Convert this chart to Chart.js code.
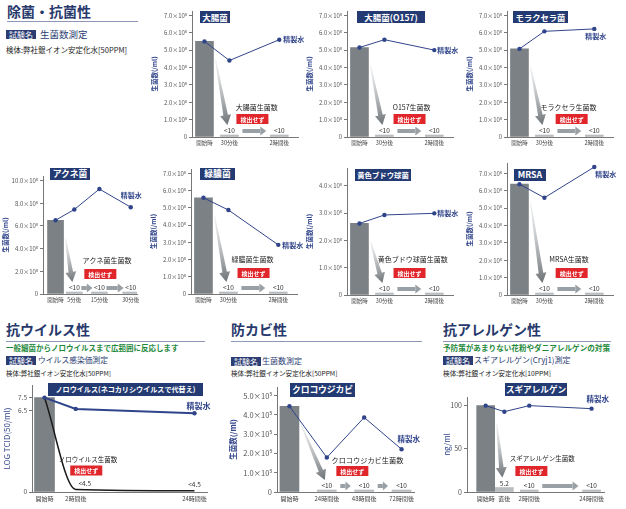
<!DOCTYPE html>
<html lang="ja">
<head>
<meta charset="UTF-8">
<title>除菌・抗菌性 / 抗ウイルス性 / 防カビ性 / 抗アレルゲン性</title>
<script src="https://cdn.jsdelivr.net/npm/chart.js"></script>
<style>
  html, body { margin: 0; padding: 0; background: #fff; font-family: "Noto Sans CJK JP", "Noto Sans", sans-serif; }
  #page { position: relative; width: 626px; height: 509px; overflow: hidden; }
  .abs { position: absolute; white-space: nowrap; }
  .head { font-size: 14px; line-height: 14px; font-weight: bold; color: #27396b; }
  .rule { height: 1px; background: #8e97b8; }
  .tag { background: #2b3d73; color: #fff; font-size: 8px; line-height: 9px; padding: 0 3px; }
  .test { color: #2b3d73; line-height: 10px; }
  .spec { color: #222; }
  .green { color: #1f8a3c; font-weight: bold; }
  .tbox { background: #243a73; color: #fff; font-weight: bold; text-align: center; overflow: hidden; }
  canvas { position: absolute; }
</style>
</head>
<body>
<div id="page">
  <div class="abs head" style="left:7px;top:4px;">除菌・抗菌性</div>
  <div class="abs rule" style="left:7px;top:21px;width:131px;"></div>
  <div class="abs tag" style="left:6px;top:30px;">試験名</div>
  <div class="abs test" style="left:40px;top:29px;font-size:9.5px;">生菌数測定</div>
  <div class="abs spec" style="left:6px;top:44px;font-size:7.5px;">検体:弊社銀イオン安定化水[50PPM]</div>

  <div class="abs head" style="left:6px;top:322px;">抗ウイルス性</div>
  <div class="abs rule" style="left:6px;top:341px;width:199px;"></div>
  <div class="abs green" style="left:6px;top:342px;font-size:7.5px;">一般細菌からノロウイルスまで広範囲に反応します</div>
  <div class="abs tag" style="left:6px;top:356px;">試験名</div>
  <div class="abs test" style="left:38px;top:355px;font-size:7.8px;">ウイルス感染価測定</div>
  <div class="abs spec" style="left:6px;top:368px;font-size:6.5px;">検体:弊社銀イオン安定化水[50PPM]</div>

  <div class="abs head" style="left:231px;top:322px;">防カビ性</div>
  <div class="abs rule" style="left:231px;top:341px;width:191px;"></div>
  <div class="abs tag" style="left:231px;top:357px;">試験名</div>
  <div class="abs test" style="left:262px;top:356px;font-size:8px;">生菌数測定</div>
  <div class="abs spec" style="left:231px;top:368px;font-size:6.6px;">検体:弊社銀イオン安定化水[50PPM]</div>

  <div class="abs head" style="left:443px;top:322px;">抗アレルゲン性</div>
  <div class="abs rule" style="left:443px;top:341px;width:168px;"></div>
  <div class="abs green" style="left:443px;top:342px;font-size:7.6px;">予防策があまりない花粉やダニアレルゲンの対策</div>
  <div class="abs tag" style="left:443px;top:356px;">試験名</div>
  <div class="abs test" style="left:474px;top:355px;font-size:8px;">スギアレルゲン(Cryj1)測定</div>
  <div class="abs spec" style="left:443px;top:368px;font-size:6.7px;">検体:弊社銀イオン安定化水[10PPM]</div>
</div>

<script>
// values are ×10⁵/ml unless noted; ND = 検出せず (<10), drawn as a thin bar
const ND = 0.0001;
const timesShort = ['開始時', '30分後', '2時間後'];
const belowTen = ['', '<10', '<10'];

const ecoliSilver = [5.5, ND, ND];
const ecoliWater = [5.5, 4.4, 5.6];

const o157Silver = [5.15, ND, ND];
const o157Water = [5.15, 5.6, 5.0];

const moraxSilver = [5.07, ND, ND];
const moraxWater = [5.07, 6.08, 6.22];

const acneTimes = ['開始時', '5分後', '15分後', '30分後'];
const acneSilver = [6.5, ND, ND, ND];
const acneText = ['', '<10', '<10', '<10'];
const acneWater = [6.5, 7.45, 9.25, 7.65];

const pseudoSilver = [5.58, ND, ND];
const pseudoWater = [5.58, 4.87, 2.85];

const staphSilver = [2.62, ND, ND];
const staphWater = [2.62, 2.93, 2.99];

const mrsaSilver = [6.38, ND, ND];
const mrsaWater = [6.38, 5.6, 7.37];

// LOG TCID50/ml
const noroTimes = ['開始時', '2時間後', '24時間後'];
const noroSilver = [7.5, 0.2, 0.1];
const noroText = ['', '<4.5', '<4.5'];
const noroWater = [7.5, 6.6, 6.25];

const moldTimes = ['開始時', '24時間後', '48時間後', '72時間後'];
const moldSilver = [4.45, ND, ND, ND];
const moldText = ['', '<10', '<10', '<10'];
const moldWater = [4.45, 1.79, 3.87, 2.22];

// ng/ml
const cedarTimes = ['開始時', '直後', '2時間後', '24時間後'];
const cedarSilver = [100, 5.2, ND, ND];
const cedarText = ['', '5.2', '<10', '<10'];
const cedarWater = [100, 93, 100, 96.5];

const ticks0to7 = [0, 1, 2, 3, 4, 5, 6, 7];
const acneTicks = [0, 2, 4, 6, 8, 10];
const staphTicks = [0, 1, 2, 3, 4];
const noroTicks = [0, 6.5, 7.5];
const moldTicks = [0, 1, 2, 3, 4, 5];
const cedarTicks = [0, 50, 100];

const FONT = '"Noto Sans CJK JP", "Noto Sans", sans-serif';
const NAVY = '#30448a';
const SLOT = 6.235;

const sci = v => v === 0 ? '0' : v.toFixed(1) + '×10⁵';
const plain = v => String(v);

const panels = [
  { title: '大腸菌', cats: timesShort, silver: ecoliSilver, text: belowTen, water: ecoliWater, ticks: ticks0to7, yMax: 7.25, fmt: sci,
    axisX: 192, yTop: 11.4, yBottom: 137, n: 18, slots: [2, 6, 14], barW: 18, yW: 41, padR: 30,
    box: [200, 11, 30, 12, 8.5], note: '大腸菌生菌数', noteX: .61, noteDy: -30, redX: .57, redDy: -18, wDx: 4, wDy: 0 },
  { title: '大腸菌(O157)', cats: timesShort, silver: o157Silver, text: belowTen, water: o157Water, ticks: ticks0to7, yMax: 7.25, fmt: sci,
    axisX: 347, yTop: 11.4, yBottom: 137, n: 18, slots: [2, 6, 14], barW: 18, yW: 41, padR: 30,
    box: [357, 11, 68, 12, 8.5], note: 'O157生菌数', noteX: .61, noteDy: -30, redX: .59, redDy: -18, wDx: 3, wDy: 0 },
  { title: 'モラクセラ菌', cats: timesShort, silver: moraxSilver, text: belowTen, water: moraxWater, ticks: ticks0to7, yMax: 7.25, fmt: sci,
    axisX: 507, yTop: 11.4, yBottom: 137, n: 18, slots: [2, 6, 14], barW: 18, yW: 41, padR: 20,
    box: [513, 11, 55, 12, 8.3], note: 'モラクセラ生菌数', noteX: .58, noteDy: -30, redX: .61, redDy: -18, wDx: -9, wDy: 7 },
  { title: 'アクネ菌', cats: acneTimes, silver: acneSilver, text: acneText, water: acneWater, ticks: acneTicks, yMax: 10.4, fmt: sci,
    axisX: 43, yTop: 176.2, yBottom: 294.3, n: 16, slots: [2, 5, 9, 14], barW: 16, yW: 41, padR: 20, gap: -1,
    box: [50, 168, 40, 12, 8.8], note: 'アクネ菌生菌数', noteX: .68, noteDy: -34, redX: .61, redDy: -20, wDx: -10, wDy: -12 },
  { title: '緑膿菌', cats: timesShort, silver: pseudoSilver, text: belowTen, water: pseudoWater, ticks: ticks0to7, yMax: 7.25, fmt: sci,
    axisX: 191, yTop: 169, yBottom: 294.3, n: 18, slots: [2, 6, 14], barW: 18, yW: 41, padR: 30,
    box: [200, 168, 35, 12, 8.8], note: '緑膿菌生菌数', noteX: .58, noteDy: -35, redX: .59, redDy: -21, wDx: 4, wDy: 0 },
  { title: '黄色ブドウ球菌', cats: timesShort, silver: staphSilver, text: belowTen, water: staphWater, ticks: staphTicks, yMax: 4.65, fmt: sci,
    axisX: 347, yTop: 168.3, yBottom: 295, n: 18, slots: [2, 6, 14], barW: 18, yW: 41, padR: 30,
    box: [355, 169, 56, 12, 7.4], note: '黄色ブドウ球菌生菌数', noteX: .62, noteDy: -36, redX: .59, redDy: -22, wDx: 3, wDy: 0 },
  { title: 'MRSA', cats: timesShort, silver: mrsaSilver, text: belowTen, water: mrsaWater, ticks: ticks0to7, yMax: 7.6, fmt: sci,
    axisX: 507, yTop: 162.8, yBottom: 295, n: 18, slots: [2, 6, 14], barW: 18, yW: 41, padR: 20,
    box: [514, 169, 32, 12, 8.8], note: 'MRSA生菌数', noteX: .585, noteDy: -36, redX: .61, redDy: -22, wDx: 1, wDy: 7 },
  { title: 'ノロウイルス(ネコカリシウイルスで代替え)', cats: noroTimes, silver: noroSilver, text: noroText, water: noroWater, ticks: noroTicks, yMax: 8.5, fmt: plain,
    axisX: 31.7, yTop: 384.9, yBottom: 492, n: 29, slots: [2, 7, 26], barW: 20, yW: 30, padR: 12, curve: true, textDx: [0, 9, 0],
    yTitle: 'LOG TCID(50/ml)', yTitleSize: 8, yTitleBold: 'normal', tickSize: 6.5, xSize: 6, waterW: 2, wSize: 8,
    box: [48, 383, 155, 13, 7.1], note: 'ノロウイルス生菌数', noteSize: 6.5, noteX: .32, noteDy: -32, redX: .31, redDy: -21.5, wDx: -8, wDy: -7 },
  { title: 'クロコウジカビ', cats: moldTimes, silver: moldSilver, text: moldText, water: moldWater, ticks: moldTicks, yMax: 5.45, fmt: sci,
    axisX: 277, yTop: 387, yBottom: 492, n: 23, slots: [2, 8, 14, 20], barW: 19, yW: 48, padR: 12,
    yTitleSize: 7.5, tickSize: 7.5, xSize: 6, wSize: 7.5,
    box: [290, 383, 65, 14, 8.8], note: 'クロコウジカビ生菌数', noteSize: 7.2, noteX: .66, noteDy: -32, redX: .55, redDy: -21, wDx: -4, wDy: -10 },
  { title: 'スギアレルゲン', cats: cedarTimes, silver: cedarSilver, text: cedarText, water: cedarWater, ticks: cedarTicks, yMax: 110, fmt: plain,
    axisX: 467, yTop: 397, yBottom: 492, n: 23, slots: [3, 6, 10, 20], barW: 18, yW: 25, padR: 20,
    yTitle: 'ng/ml', yTitleSize: 8, yTitleBold: 'normal', tickSize: 7, xSize: 6, wSize: 7.5,
    box: [505, 383, 62, 13, 8.6], note: 'スギアレルゲン生菌数', noteSize: 6.5, noteX: .55, noteDy: -33, redX: .47, redDy: -21, wDx: -5, wDy: -10 }
];

function expand(p, arr) {
  const out = new Array(p.n).fill(null);
  p.slots.forEach((s, i) => { out[s] = arr[i]; });
  return out;
}

function rightArrow(ctx, x1, x2, y) {
  if (x2 - x1 < 4) return;
  const head = Math.min(6, (x2 - x1) * 0.5);
  ctx.fillStyle = '#9aa1a6';
  ctx.fillRect(x1, y - 2, x2 - x1 - head, 4);
  ctx.beginPath();
  ctx.moveTo(x2 - head, y - 4.5);
  ctx.lineTo(x2, y);
  ctx.lineTo(x2 - head, y + 4.5);
  ctx.closePath();
  ctx.fill();
}

function dropArrow(ctx, sx, sy, tx, ty) {
  const len = Math.hypot(tx - sx, ty - sy);
  const dx = (tx - sx) / len, dy = (ty - sy) / len;
  const nx = -dy, ny = dx;
  const hx = tx - dx * 10, hy = ty - dy * 10;
  const g = ctx.createLinearGradient(sx, sy, tx, ty);
  g.addColorStop(0, 'rgba(170,174,178,0.15)');
  g.addColorStop(1, '#6d7276');
  ctx.fillStyle = g;
  ctx.beginPath();
  ctx.moveTo(sx + nx * 0.5, sy + ny * 0.5);
  ctx.lineTo(hx + nx * 2.3, hy + ny * 2.3);
  ctx.lineTo(hx + nx * 5.5, hy + ny * 5.5);
  ctx.lineTo(tx, ty);
  ctx.lineTo(hx - nx * 5.5, hy - ny * 5.5);
  ctx.lineTo(hx - nx * 2.3, hy - ny * 2.3);
  ctx.lineTo(sx - nx * 0.5, sy - ny * 0.5);
  ctx.closePath();
  ctx.fill();
}

// labels, arrows and the 検出せず box, placed from the chart's own scales
function decor(p) {
  return {
    id: 'decor',
    afterDatasetsDraw(chart) {
      const ctx = chart.ctx, area = chart.chartArea;
      const xs = chart.scales.x, ys = chart.scales.y;
      const bars = chart.getDatasetMeta(0).data;
      const pts = chart.getDatasetMeta(1).data;
      const px = p.slots.map(s => xs.getPixelForValue(s));
      const half = p.barW / 2;
      const gap = p.gap !== undefined ? p.gap : 4;
      const tops = p.slots.map((s, i) => p.curve ? ys.getPixelForValue(p.silver[i]) - 2 : bars[s].y);
      const ly = tops.map(t => t - 4);
      ctx.save();
      ctx.textAlign = 'center';
      ctx.textBaseline = 'middle';

      if (!p.curve) dropArrow(ctx, px[0] + half + 2, bars[p.slots[0]].y + 18, px[1] - 2, ly[1] - 6);

      ctx.font = `${p.valSize || 6.5}px ${FONT}`;
      ctx.fillStyle = '#333';
      p.text.forEach((t, i) => { if (t) ctx.fillText(t, px[i] + (p.textDx ? p.textDx[i] : 0), ly[i]); });

      if (!p.curve) {
        for (let i = 2; i < px.length; i++) rightArrow(ctx, px[i - 1] + half + gap, px[i] - half - gap, ly[i]);
      }

      const w = area.right - area.left;
      ctx.font = `${p.noteSize || 7}px ${FONT}`;
      ctx.fillStyle = '#222';
      ctx.fillText(p.note, area.left + p.noteX * w, area.bottom + p.noteDy);

      const bx = area.left + p.redX * w, by = area.bottom + p.redDy;
      ctx.fillStyle = '#e1262b';
      ctx.fillRect(bx - 16, by - 5, 32, 10);
      ctx.fillStyle = '#fff';
      ctx.font = `bold 6px ${FONT}`;
      ctx.fillText('検出せず', bx, by + 0.5);

      const last = pts[p.slots[p.slots.length - 1]];
      ctx.textAlign = 'left';
      ctx.fillStyle = NAVY;
      ctx.font = `bold ${p.wSize || 7}px ${FONT}`;
      ctx.fillText('精製水', last.x + p.wDx, last.y + p.wDy);
      ctx.restore();
    }
  };
}

const page = document.getElementById('page');

panels.forEach(p => {
  const W = (p.n - 1) * SLOT;
  const left = p.axisX - p.yW;
  const top = p.yTop - 10;
  const width = Math.round(p.yW + W + p.padR);
  const height = Math.round(p.yBottom - p.yTop + 28);

  const cv = document.createElement('canvas');
  cv.width = width;
  cv.height = height;
  cv.style.left = left + 'px';
  cv.style.top = top + 'px';
  cv.style.width = width + 'px';
  cv.style.height = height + 'px';
  page.appendChild(cv);

  const b = p.box;
  const tb = document.createElement('div');
  tb.className = 'abs tbox';
  tb.textContent = p.title;
  tb.style.cssText += `left:${b[0]}px;top:${b[1]}px;width:${b[2]}px;height:${b[3]}px;line-height:${b[3]}px;font-size:${b[4]}px;`;
  page.appendChild(tb);

  const labels = expand(p, p.cats).map(v => v || '');
  const barData = p.curve ? expand(p, [p.silver[0]]) : expand(p, p.silver);
  const colors = labels.map((l, i) => i === p.slots[0] ? '#7b8185' : '#b8bcbf');

  const datasets = [
    { type: 'bar', data: barData, backgroundColor: colors, barThickness: p.barW, minBarLength: 2, order: 2 },
    { type: 'line', data: expand(p, p.water), borderColor: NAVY, borderWidth: p.waterW || 1,
      pointRadius: 2.2, pointBackgroundColor: NAVY, pointBorderWidth: 0, spanGaps: true, tension: 0, order: 1 }
  ];
  if (p.curve) {
    datasets.push({ type: 'line', data: expand(p, p.silver), borderColor: '#1a1a1a', borderWidth: 1.5,
      pointRadius: 0, spanGaps: true, cubicInterpolationMode: 'monotone', order: 1 });
  }

  new Chart(cv, {
    data: { labels, datasets },
    options: {
      responsive: false,
      animation: false,
      layout: { padding: { left: 0, top: 10, right: p.padR, bottom: 0 } },
      plugins: { legend: { display: false }, tooltip: { enabled: false } },
      scales: {
        x: {
          type: 'category', offset: false,
          grid: { display: false, drawTicks: false },
          border: { color: '#777', width: 1 },
          ticks: { autoSkip: false, maxRotation: 0, minRotation: 0, padding: 3, color: '#444',
                   font: { family: FONT, size: p.xSize || 5.5 } },
          afterFit: s => { s.height = 18; }
        },
        y: {
          min: 0, max: p.yMax,
          grid: { drawOnChartArea: false, drawTicks: true, tickLength: 3, color: '#777' },
          border: { color: '#777', width: 1 },
          ticks: { padding: 2, color: '#555', font: { family: FONT, size: p.tickSize || 6 },
                   callback: v => p.fmt(v) },
          afterBuildTicks: s => { s.ticks = p.ticks.map(v => ({ value: v })); },
          afterFit: s => { s.width = p.yW; },
          title: { display: true, text: p.yTitle || '生菌数(/ml)', color: '#34478c', padding: 0,
                   font: { family: FONT, size: p.yTitleSize || 6.5, weight: p.yTitleBold || 'bold' } }
        }
      }
    },
    plugins: [decor(p)]
  });
});
</script>
</body>
</html>
